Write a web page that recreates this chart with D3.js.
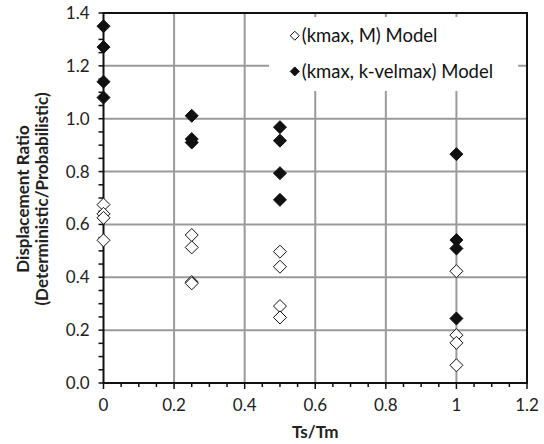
<!DOCTYPE html>
<html>
<head>
<meta charset="utf-8">
<script src="https://cdn.jsdelivr.net/npm/d3@7"></script>
<style>
  body { margin: 0; background: #fff; }
  svg { display: block; font-family: Lato, "Noto Sans", sans-serif; }
  .grid line { stroke: #9a9a9a; stroke-width: 2; }
  .tick-label { font-size: 17px; fill: #222; }
  .title { font-size: 17px; font-weight: bold; fill: #222; }
  .legend text { font-size: 18.5px; fill: #111; }
</style>
</head>
<body>
<div id="chart"></div>
<script>
// Ts/Tm ratios and displacement ratios
var xsM = [0, 0, 0, 0, 0.25, 0.25, 0.25, 0.25, 0.5, 0.5, 0.5, 0.5, 1, 1, 1, 1];
var ysM = [0.675, 0.64, 0.625, 0.54, 0.56, 0.513, 0.382, 0.377, 0.497, 0.44, 0.291, 0.248, 0.423, 0.181, 0.152, 0.067];

var xsV = [0, 0, 0, 0, 0.25, 0.25, 0.25, 0.5, 0.5, 0.5, 0.5, 1, 1, 1, 1];
var ysV = [1.35, 1.271, 1.14, 1.08, 1.011, 0.923, 0.91, 0.968, 0.917, 0.794, 0.693, 0.866, 0.541, 0.509, 0.244];

var xTicks = [0, 0.2, 0.4, 0.6, 0.8, 1, 1.2];
var yTicks = [0, 0.2, 0.4, 0.6, 0.8, 1.0, 1.2, 1.4];
var legendLabels = ["(kmax, M) Model", "(kmax, k-velmax) Model"];

var width = 544, height = 444;
var margin = {left: 103.5, right: 17, top: 13, bottom: 61};

var svg = d3.select('#chart').append('svg')
    .attr('width', width)
    .attr('height', height);

var x = d3.scaleLinear().domain([0, 1.2]).range([margin.left, width - margin.right]);
var y = d3.scaleLinear().domain([0, 1.4]).range([height - margin.bottom, margin.top]);

// gridlines
var grid = svg.append('g').attr('class', 'grid');
grid.selectAll('line.h')
    .data(yTicks.filter(d => d > 0 && d < 1.4))
    .enter().append('line')
    .attr('x1', x(0)).attr('x2', x(1.2))
    .attr('y1', d => y(d)).attr('y2', d => y(d));
grid.selectAll('line.v')
    .data(xTicks.filter(d => d > 0 && d < 1.2))
    .enter().append('line')
    .attr('y1', y(0)).attr('y2', y(1.4))
    .attr('x1', d => x(d)).attr('x2', d => x(d));

// legend box (covers grid)
var legend = svg.append('g').attr('class', 'legend');
legend.append('rect')
    .attr('x', x(0.469)).attr('y', y(1.385))
    .attr('width', x(1.175) - x(0.469))
    .attr('height', y(1.105) - y(1.385))
    .attr('fill', '#fff');

function diamond(sel, r) {
    return sel.attr('d', 'M0,' + (-r) + 'L' + r + ',0L0,' + r + 'L' + (-r) + ',0Z');
}

var legendRows = legend.selectAll('g.row')
    .data(legendLabels)
    .enter().append('g')
    .attr('class', 'row')
    .attr('transform', (d, i) => 'translate(' + x(0.542) + ',' + y(i === 0 ? 1.314 : 1.179) + ')');
legendRows.append('path')
    .call(diamond, 4.5)
    .attr('fill', (d, i) => i === 0 ? '#fff' : '#111')
    .attr('stroke', '#111')
    .attr('stroke-width', 1);
legendRows.append('text')
    .attr('x', 7).attr('dy', '0.35em')
    .text(d => d);

// frame
svg.append('rect')
    .attr('x', x(0)).attr('y', y(1.4))
    .attr('width', x(1.2) - x(0)).attr('height', y(0) - y(1.4))
    .attr('fill', 'none').attr('stroke', '#111').attr('stroke-width', 2);

// y axis ticks
var yAxis = svg.append('g').attr('transform', 'translate(' + x(0) + ',0)');
yAxis.selectAll('line.minor')
    .data(d3.range(0, 1.4001, 0.05))
    .enter().append('line')
    .attr('x1', -5).attr('x2', 0)
    .attr('y1', d => y(d)).attr('y2', d => y(d))
    .attr('stroke', '#111').attr('stroke-width', 1.5);
yAxis.selectAll('text')
    .data(yTicks)
    .enter().append('text')
    .attr('class', 'tick-label')
    .attr('x', -14).attr('y', d => y(d))
    .attr('dy', '0.35em')
    .attr('text-anchor', 'end')
    .text(d => d.toFixed(1));

// x axis ticks
var xAxis = svg.append('g').attr('transform', 'translate(0,' + y(0) + ')');
xAxis.selectAll('line.minor')
    .data(d3.range(0, 1.2001, 0.05))
    .enter().append('line')
    .attr('y1', 0).attr('y2', (d, i) => i % 4 === 0 ? 6 : 4)
    .attr('x1', d => x(d)).attr('x2', d => x(d))
    .attr('stroke', '#111').attr('stroke-width', 1.5);
xAxis.selectAll('text')
    .data(xTicks)
    .enter().append('text')
    .attr('class', 'tick-label')
    .attr('x', d => x(d)).attr('y', 28)
    .attr('text-anchor', 'middle')
    .text(d => d3.format('')(d));

// axis titles
svg.append('text')
    .attr('class', 'title')
    .attr('x', (x(0) + x(1.2)) / 2).attr('y', 438)
    .attr('text-anchor', 'middle')
    .text('Ts/Tm');

var yTitle = svg.append('text')
    .attr('class', 'title')
    .attr('transform', 'translate(0,' + (y(0.7) + 1) + ') rotate(-90)')
    .attr('text-anchor', 'middle');
yTitle.append('tspan').attr('x', 0).attr('y', 29).text('Displacement Ratio');
yTitle.append('tspan').attr('x', 0).attr('y', 48).text('(Deterministic/Probabilistic)');

// data points
var pts = svg.append('g').attr('class', 'points');
pts.selectAll('path.m')
    .data(xsM.map((d, i) => [d, ysM[i]]))
    .enter().append('path')
    .attr('class', 'm')
    .call(diamond, 6.5)
    .attr('transform', d => 'translate(' + x(d[0]) + ',' + y(d[1]) + ')')
    .attr('fill', '#fff').attr('stroke', '#111').attr('stroke-width', 1);
pts.selectAll('path.v')
    .data(xsV.map((d, i) => [d, ysV[i]]))
    .enter().append('path')
    .attr('class', 'v')
    .call(diamond, 6.5)
    .attr('transform', d => 'translate(' + x(d[0]) + ',' + y(d[1]) + ')')
    .attr('fill', '#111').attr('stroke', '#111').attr('stroke-width', 1);
</script>
</body>
</html>
